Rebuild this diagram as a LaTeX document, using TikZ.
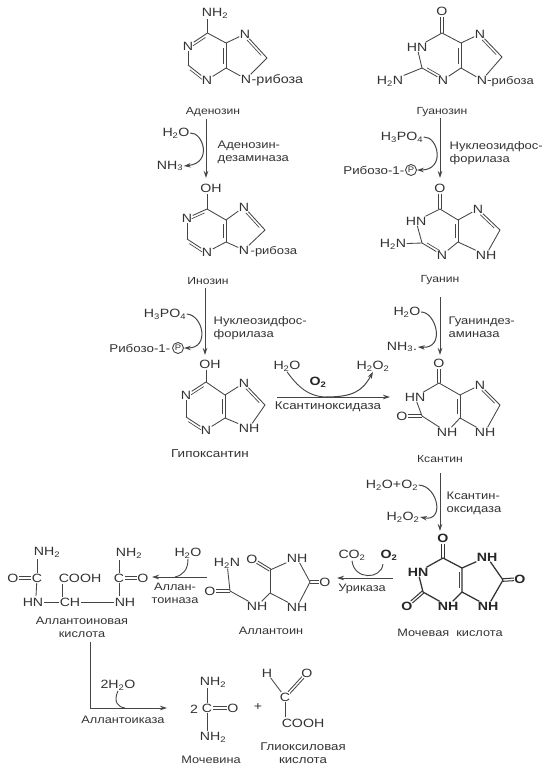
\documentclass[tikz,border=0pt]{standalone}
\usepackage{fontspec}
\setmainfont{Liberation Sans}[FakeStretch=1.18]
\usetikzlibrary{calc,arrows.meta}
\definecolor{ink}{HTML}{333333}
\definecolor{lin}{HTML}{454545}
\tikzset{
 atom/.style={inner sep=0.4pt,text=ink,font=\fontsize{12}{12}\selectfont},
 heavy/.style={inner sep=0.4pt,text=black!85,font=\fontsize{12}{12}\selectfont\bfseries},
 lbl/.style={inner sep=0.5pt,text=ink,font=\fontsize{11}{13}\selectfont,align=left},
 capt/.style={inner sep=0.5pt,text=ink,font=\fontsize{10.8}{12.8}\selectfont,align=center},
 capts/.style={inner sep=0.5pt,text=ink,font=\fontsize{10.3}{12.5}\selectfont,align=center},
 ribo/.style={inner sep=0.5pt,text=ink,font=\fontsize{11}{13}\selectfont},
 reag/.style={inner sep=0.5pt,text=ink,font=\fontsize{12}{12}\selectfont},
 bond/.style={draw=lin,line width=0.85pt},
 hbond/.style={draw=black!80,line width=1.25pt},
 rxn/.style={draw=lin,line width=0.9pt,-{Stealth[length=7pt,width=4.5pt]}},
 cur/.style={draw=lin,line width=0.9pt},
 cura/.style={draw=lin,line width=1pt,-{Stealth[length=7pt,width=4.5pt]}},
 pcirc/.style={draw=lin,circle,line width=0.9pt,minimum size=11pt,inner sep=0pt,text=ink,font=\fontsize{8}{8}\selectfont},
}
\newcommand{\At}[3]{\node[atom] (#1) at (#2) {#3};}
\newcommand{\Hv}[3]{\node[heavy] (#1) at (#2) {#3};}
\newcommand{\Pt}[2]{\coordinate (#1) at (#2);}
\newcommand{\Sb}[2]{\draw[bond] (#1)--(#2);}
% double bond: style, from, to, shortening at from, shortening at to
\newcommand{\DbS}[5]{\draw[#1,shorten <=#4,shorten >=#5] ($(#2)!1.3pt!90:(#3)$)--($(#3)!1.3pt!-90:(#2)$);\draw[#1,shorten <=#4,shorten >=#5] ($(#2)!1.3pt!-90:(#3)$)--($(#3)!1.3pt!90:(#2)$);}
\newcommand{\Db}[4]{\DbS{bond}{#1}{#2}{#3}{#4}}
\newcommand{\Ib}[3]{\draw[bond,line width=0.65pt] ($(#1)!.18!(#2)!2.6pt!#3:(#2)$)--($(#1)!.82!(#2)!2.6pt!#3:(#2)$);}
\newcommand{\HS}{\textsubscript}
\begin{document}
\begin{tikzpicture}[x=1pt,y=-1pt]
\useasboundingbox[fill=white] (0,0) rectangle (547,771);
% Adenosine
\At{aX}{215,13}{NH\HS{2}}\Pt{aC6}{207.5,33}\At{aN1}{188,46}{N}\Pt{aC2}{188,65}\At{aN3}{207,80}{N}\Pt{aC4}{226,68}\Pt{aC5}{226,43}\At{aN7}{245,34}{N}\Pt{aC8}{267,58}\At{aN9}{246,79}{N}
\node[ribo,anchor=west,font=\fontsize{12.2}{13}\selectfont] (aR) at (251,80) {-рибоза};
\draw[bond] (207.5,19)--(aC6);\Sb{aC6}{aC5}\Sb{aN1}{aC2}\Sb{aC2}{aN3}\Sb{aN3}{aC4}\Sb{aC4}{aC5}\Sb{aC5}{aN7}\Sb{aN7}{aC8}\Sb{aC8}{aN9}\Sb{aN9}{aC4}\Sb{aC6}{aN1}
\Ib{aC6}{aN1}{90}\Ib{aC2}{aN3}{-90}\Ib{aC4}{aC5}{90}\Ib{aN7}{aC8}{-90}
\node[capts] (aName) at (213,112) {Аденозин};
% Guanosine
\At{gO}{442,11}{O}\Pt{gC6}{442,33}\At{gN1}{417,47}{HN}\Pt{gC2}{422,68}\At{gN2}{390,81}{H\HS{2}N}\At{gN3}{443,80}{N}\Pt{gC4}{461,68}\Pt{gC5}{461,43}\At{gN7}{480,34}{N}\Pt{gC8}{502,57}\At{gN9}{482,80}{N}
\node[ribo,anchor=west] (gR) at (491,82) {рибоза};
\Db{gO}{gC6}{6pt}{0pt}\Sb{gC6}{gN1}\Sb{gN1}{gC2}\Sb{gC2}{gN2}\Sb{gC2}{gN3}\Ib{gC2}{gN3}{90}\Sb{gN3}{gC4}\Sb{gC4}{gC5}\Ib{gC4}{gC5}{90}\Sb{gC5}{gC6}\Sb{gC5}{gN7}\Sb{gN7}{gC8}\Ib{gN7}{gC8}{-90}\Sb{gC8}{gN9}\Sb{gN9}{gC4}\Sb{gN9}{gR}
\node[capts] (gName) at (442,112) {Гуанозин};
% Inosine
\At{iO}{211,188}{OH}\Pt{iC6}{207,209}\At{iN1}{187,218}{N}\Pt{iC2}{187,239}\At{iN3}{207,252}{N}\Pt{iC4}{226,242}\Pt{iC5}{226,220}\At{iN7}{244,207}{N}\Pt{iC8}{265,230}\At{iN9}{244,250}{N}
\node[ribo,anchor=west] (iR) at (250,252) {-рибоза};
\draw[bond] (207,194)--(iC6);\Sb{iC6}{iC5}\Sb{iC6}{iN1}\Ib{iC6}{iN1}{90}\Sb{iN1}{iC2}\Sb{iC2}{iN3}\Ib{iC2}{iN3}{-90}\Sb{iN3}{iC4}\Sb{iC4}{iC5}\Ib{iC4}{iC5}{90}\Sb{iC5}{iN7}\Sb{iN7}{iC8}\Ib{iN7}{iC8}{-90}\Sb{iC8}{iN9}\Sb{iN9}{iC4}
\node[capts] (iName) at (208,281) {Инозин};
% Guanine
\At{nO}{440,188}{O}\Pt{nC6}{440,209}\At{nN1}{416,221}{HN}\Pt{nC2}{422,243}\At{nN2}{393,244}{H\HS{2}N}\At{nN3}{442,255}{N}\Pt{nC4}{458,242}\Pt{nC5}{458,220}\At{nN7}{478,209}{N}\Pt{nC8}{500,230}\At{nN9}{486,255}{NH}
\Db{nO}{nC6}{6pt}{0pt}\Sb{nC6}{nN1}\Sb{nN1}{nC2}\Sb{nC2}{nN2}\Sb{nC2}{nN3}\Ib{nC2}{nN3}{90}\Sb{nN3}{nC4}\Sb{nC4}{nC5}\Ib{nC4}{nC5}{90}\Sb{nC5}{nC6}\Sb{nC5}{nN7}\Sb{nN7}{nC8}\Ib{nN7}{nC8}{-90}\Sb{nC8}{nN9}\Sb{nN9}{nC4}
\node[capts] (nName) at (440,280) {Гуанин};
% Hypoxanthine
\At{hO}{210,364}{OH}\Pt{hC6}{206,382}\At{hN1}{186,395}{N}\Pt{hC2}{186,417}\At{hN3}{206,430}{N}\Pt{hC4}{225,418}\Pt{hC5}{225,395}\At{hN7}{244,383}{N}\Pt{hC8}{265,405}\At{hN9}{249,428}{NH}
\draw[bond] (206,370)--(hC6);\Sb{hC6}{hC5}\Sb{hC6}{hN1}\Ib{hC6}{hN1}{90}\Sb{hN1}{hC2}\Sb{hC2}{hN3}\Ib{hC2}{hN3}{-90}\Sb{hN3}{hC4}\Sb{hC4}{hC5}\Ib{hC4}{hC5}{90}\Sb{hC5}{hN7}\Sb{hN7}{hC8}\Ib{hN7}{hC8}{-90}\Sb{hC8}{hN9}\Sb{hN9}{hC4}
\node[capt,font=\fontsize{11.4}{13}\selectfont] (hName) at (210,454) {Гипоксантин};
% Xanthine
\At{xO}{439,363}{O}\Pt{xC6}{439,383}\At{xN1}{415,397}{HN}\Pt{xC2}{422,416}\At{xO2}{402,416}{O}\At{xN3}{447,432}{NH}\Pt{xC4}{460,418}\Pt{xC5}{460,395}\At{xN7}{480,385}{N}\Pt{xC8}{500,405}\At{xN9}{485,432}{NH}
\Db{xO}{xC6}{6pt}{0pt}\Sb{xC6}{xN1}\Sb{xN1}{xC2}\Db{xO2}{xC2}{6pt}{0pt}\Sb{xC2}{xN3}\Sb{xN3}{xC4}\Sb{xC4}{xC5}\Ib{xC4}{xC5}{90}\Sb{xC5}{xC6}\Sb{xC5}{xN7}\Sb{xN7}{xC8}\Ib{xN7}{xC8}{-90}\Sb{xC8}{xN9}\Sb{xN9}{xC4}
\node[capts] (xName) at (440,459) {Ксантин};
% Uric acid
\Hv{uO}{443,538}{O}\Pt{uC6}{443,558}\Hv{uN1}{418,572}{HN}\Pt{uC2}{423,592}\Hv{uO2}{407,606}{O}\Hv{uN3}{448,606}{NH}\Pt{uC4}{462,592}\Pt{uC5}{462,568}\Hv{uN7}{487,557}{NH}\Pt{uC8}{503,580}\Hv{uO8}{520,579}{O}\Hv{uN9}{488,606}{NH}
\DbS{hbond,line width=1pt}{uO}{uC6}{6pt}{0pt}\draw[hbond] (uC6)--(uN1) (uN1)--(uC2) (uC2)--(uN3) (uN3)--(uC4) (uC4)--(uC5) (uC5)--(uC6) (uC5)--(uN7) (uN7)--(uC8) (uC8)--(uN9) (uN9)--(uC4);\DbS{hbond,line width=1pt}{uO2}{uC2}{6pt}{0pt}\DbS{hbond,line width=1pt}{uC8}{uO8}{0pt}{6pt}\Ib{uC4}{uC5}{90}
\node[capt] (uName) at (450,633) {Мочевая\ \ кислота};
% Allantoin
\At{lN}{227,563}{H\HS{2}N}\Pt{lC}{230,591}\At{lO}{210,591}{O}\At{lN2}{257,606}{NH}\Pt{lCH}{270,593}\Pt{lC5}{270,570}\At{lO5}{252,559}{O}\At{lN3}{297,558}{NH}\Pt{lC2}{310,582}\At{lO2}{325,582}{O}\At{lN4}{297,607}{NH}
\Sb{lN}{lC}\Db{lO}{lC}{6pt}{0pt}\Sb{lC}{lN2}\Sb{lN2}{lCH}\Sb{lCH}{lC5}\Db{lC5}{lO5}{0pt}{6pt}\Sb{lC5}{lN3}\Sb{lN3}{lC2}\Db{lC2}{lO2}{0pt}{6pt}\Sb{lC2}{lN4}\Sb{lN4}{lCH}
\node[capt] (lName) at (271,631) {Аллантоин};
% Allantoic acid
\At{cNa}{47,552}{NH\HS{2}}\At{cCa}{37,578}{C}\At{cOa}{13,578}{O}\At{cHN}{33,602}{HN}\At{cCOOH}{80,578}{COOH}\At{cCH}{70,602}{CH}\At{cNb}{129,553}{NH\HS{2}}\At{cCb}{119,578}{C}\At{cOb}{143,578}{O}\At{cNH}{125,602}{NH}
\Pt{cta}{37,559}\Pt{ctb}{119,560}\Pt{cba}{36,596}\Pt{cbb}{119,596}\Pt{cco}{62,584}\Pt{ccb}{62,597}
\Sb{cta}{cCa}\Db{cOa}{cCa}{6pt}{6pt}\Sb{cCa}{cba}\Sb{cHN}{cCH}\Sb{cco}{ccb}\Sb{cCH}{cNH}\Sb{ctb}{cCb}\Db{cCb}{cOb}{6pt}{6pt}\Sb{cCb}{cbb}
\node[capt] (cName) at (82,627) {Аллантоиновая\\кислота};
% Urea
\At{vN}{213,682}{NH\HS{2}}\At{vC}{207,708}{C}\At{vO}{233,708}{O}\At{vM}{213,737}{NH\HS{2}}\At{v2}{194,709}{2}
\Pt{vt}{207,688}\Pt{vb}{207,731}
\Sb{vt}{vC}\Db{vC}{vO}{6pt}{6pt}\Sb{vC}{vb}
\node[capt] (vName) at (211,760) {Мочевина};
\node[atom] (plus) at (258,707) {+};
% Glyoxylic acid
\At{yH}{267,673}{H}\At{yO}{307,673}{O}\At{yC}{285,697}{C}\At{yCOOH}{303,723}{COOH}
\Pt{yb}{285,717}
\Sb{yH}{yC}\Db{yC}{yO}{6pt}{6pt}\Sb{yC}{yb}
\node[capt,font=\fontsize{11.2}{13}\selectfont] (yName) at (303,753.5) {Глиоксиловая\\кислота};
% reaction 1
\Pt{r1a}{206,119}\Pt{r1b}{206,178}
\draw[rxn] (r1a)--(r1b);
\node[reag] (r1s) at (176,133) {H\HS{2}O};
\node[reag] (r1p) at (170,166) {NH\HS{3}};
\draw[cura] (r1s.east) .. controls (203,132) and (213,163) .. (r1p.east);
\node[lbl,anchor=west] (r1e) at (217,152) {Аденозин-\\дезаминаза};
% reaction 2
\Pt{r2a}{440,118}\Pt{r2b}{440,178}
\draw[rxn] (r2a)--(r2b);
\node[reag] (r2s) at (402,137) {H\HS{3}PO\HS{4}};
\node[capt,font=\fontsize{11.3}{13}\selectfont,anchor=east] (r2t) at (405,170) {Рибозо-1-};
\node[pcirc] (r2p) at (411,170) {P};
\draw[cura] (r2s.east) .. controls (438,136) and (446,170) .. (r2p.east);
\node[lbl,anchor=west] (r2e) at (449,153.5) {Нуклеозидфос-\\форилаза};
% reaction 3
\Pt{r3a}{205,288}\Pt{r3b}{205,355}
\draw[rxn] (r3a)--(r3b);
\node[reag] (r3s) at (165,314) {H\HS{3}PO\HS{4}};
\node[capt,font=\fontsize{11.3}{13}\selectfont,anchor=east] (r3t) at (171,348) {Рибозо-1-};
\node[pcirc] (r3p) at (178,348) {P};
\draw[cura] (r3s.east) .. controls (203,315) and (210,348) .. (r3p.east);
\node[lbl,anchor=west] (r3e) at (213,328.5) {Нуклеозидфос-\\форилаза};
% reaction 4
\Pt{r4a}{440,297}\Pt{r4b}{440,355}
\draw[rxn] (r4a)--(r4b);
\node[reag] (r4s) at (407,312) {H\HS{2}O};
\node[reag] (r4p) at (402,347) {NH\HS{3}.};
\draw[cura] (r4s.east) .. controls (436,312) and (446,349) .. (r4p.east);
\node[lbl,anchor=west] (r4e) at (448,327) {Гуаниндез-\\аминаза};
% reaction 5
\Pt{r5a}{277,397}\Pt{r5b}{390,397}
\Pt{r5m}{325,397}
\draw[rxn] (r5a)--(r5b);
\node[reag] (r5s) at (287,366) {H\HS{2}O};
\node[reag] (r5p) at (373,366) {H\HS{2}O\HS{2}};
\node[heavy] (r5o) at (318,382) {O\HS{2}};
\draw[cur] (r5s.south) .. controls (298,387) and (308,396) .. (r5m);
\draw[cura] (r5m) .. controls (352,397) and (362,392) .. (r5p.south);
\node[capt,font=\fontsize{11.3}{13}\selectfont] (r5e) at (328,407) {Ксантиноксидаза};
% reaction 6
\Pt{r6a}{440,473}\Pt{r6b}{440,531}
\draw[rxn] (r6a)--(r6b);
\node[reag] (r6s) at (392,485) {H\HS{2}O+O\HS{2}};
\node[reag] (r6p) at (403,517) {H\HS{2}O\HS{2}};
\draw[cura] (r6s.east) .. controls (438,486) and (445,522) .. (r6p.east);
\node[lbl,anchor=west] (r6e) at (446,503.5) {Ксантин-\\оксидаза};
% reaction 7
\Pt{r7a}{393,578}\Pt{r7b}{337,578}
\draw[rxn] (r7a)--(r7b);
\node[reag] (r7p) at (352,555) {CO\HS{2}};
\node[heavy] (r7s) at (389,555) {O\HS{2}};
\Pt{r7e2}{383,564}
\draw[cur] (r7p.south) .. controls (354,580) and (381,580) .. (r7e2);
\node[capt] (r7e) at (362,589) {Уриказа};
% reaction 8
\Pt{r8a}{207,577}\Pt{r8b}{152,577}\Pt{r8m}{175,577}
\draw[rxn] (r8a)--(r8b);
\node[reag] (r8s) at (188,553) {H\HS{2}O};
\draw[cur] (r8s.south) .. controls (188,570) and (183,575) .. (r8m);
\node[capt] (r8e) at (175,593.5) {Аллан-\\тоиназа};
% reaction 9
\Pt{r9a}{90,642}\Pt{r9b}{90,708}\Pt{r9c}{167,708}\Pt{r9m}{125,708}
\draw[rxn] (r9a)--(r9b)--(r9c);
\node[reag] (r9s) at (118,685) {2H\HS{2}O};
\draw[cur] (r9s.south) .. controls (113,702) and (118,707) .. (r9m);
\node[capt] (r9e) at (123,720) {Аллантоиказа};
\end{tikzpicture}
\end{document}
